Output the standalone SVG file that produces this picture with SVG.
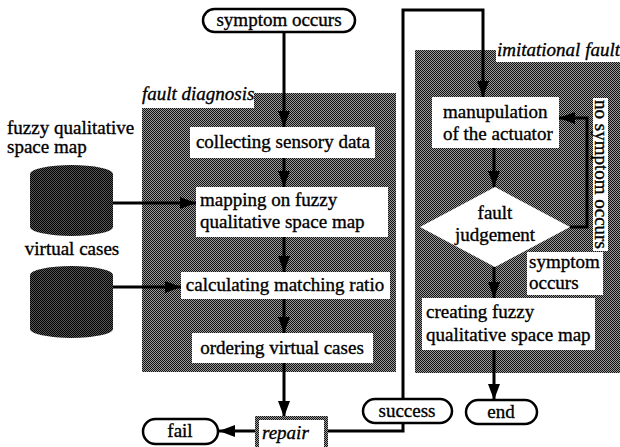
<svg xmlns="http://www.w3.org/2000/svg" width="620" height="447" viewBox="0 0 620 447">
  <defs>
    <!-- halftone-like fill for shaded regions -->
    <pattern id="dither" width="2" height="2" patternUnits="userSpaceOnUse">
      <rect width="2" height="2" fill="#9a9a9a"/>
      <rect width="1" height="1" fill="#111"/>
      <rect x="1" y="1" width="1" height="1" fill="#111"/>
    </pattern>
    <pattern id="ditherDark" width="2" height="2" patternUnits="userSpaceOnUse">
      <rect width="2" height="2" fill="#555"/>
      <rect width="1" height="1" fill="#000"/>
      <rect x="1" y="1" width="1" height="1" fill="#000"/>
    </pattern>
    <marker id="arrow" viewBox="0 0 16 12" refX="16" refY="6" markerWidth="16" markerHeight="12" markerUnits="userSpaceOnUse" orient="auto">
      <path d="M0,0 L16,6 L0,12 Z" fill="#000"/>
    </marker>
  </defs>
  <style>
    text { font-family: "Liberation Serif", "Times New Roman", "DejaVu Serif", serif; font-size: 19px; fill: #000; stroke: #000; stroke-width: 0.35px; }
    .c { text-anchor: middle; }
    .it { font-style: italic; }
    .box { fill: #fff; stroke: none; }
    .pill { fill: #fff; stroke: #000; stroke-width: 2.5; }
    .shade { fill: url(#dither); }
    .conn { fill: none; stroke: #000; stroke-width: 3; }
  </style>

  <rect width="620" height="447" fill="#fff"/>

  <g font-family="Liberation Serif, serif">
  <!-- fault diagnosis region -->
  <g id="fault-diagnosis">
    <rect class="shade" x="142" y="93" width="254" height="279"/>
    <rect fill="#fff" x="138" y="84" width="116" height="24"/>
    <text class="it" x="142" y="100">fault diagnosis</text>
  </g>

  <!-- imitational fault region -->
  <g id="imitational-fault">
    <rect class="shade" x="415" y="50" width="205" height="323"/>
    <rect fill="#fff" x="496" y="36" width="124" height="26"/>
    <text class="it" x="497" y="56">imitational fault</text>
  </g>

  <!-- connectors -->
  <g id="connectors">
    <path class="conn" d="M284,32 V127" marker-end="url(#arrow)"/>
    <path class="conn" d="M284,158 V187" marker-end="url(#arrow)"/>
    <path class="conn" d="M284,237 V272" marker-end="url(#arrow)"/>
    <path class="conn" d="M284,299 V333" marker-end="url(#arrow)"/>
    <path class="conn" d="M284,363 V417" marker-end="url(#arrow)"/>
    <path class="conn" d="M113,203 H196" marker-end="url(#arrow)"/>
    <path class="conn" d="M113,287 H181" marker-end="url(#arrow)"/>
    <path class="conn" d="M255,431 H219" marker-end="url(#arrow)"/>
    <path class="conn" d="M328,431 H403 V10 H483 V97" marker-end="url(#arrow)"/>
    <path class="conn" d="M494,148 V187" marker-end="url(#arrow)"/>
    <path class="conn" d="M570,227 H587 V118 H559" marker-end="url(#arrow)"/>
    <path class="conn" d="M494,267 V298" marker-end="url(#arrow)"/>
    <path class="conn" d="M494,350 V400" marker-end="url(#arrow)"/>
  </g>

  <!-- terminals -->
  <g id="symptom-occurs">
    <rect class="pill" x="203" y="9" width="152" height="23" rx="11.5"/>
    <text class="c" x="279" y="26">symptom occurs</text>
  </g>
  <g id="fail">
    <rect class="pill" x="143" y="419" width="75" height="25" rx="12.5"/>
    <text class="c" x="180" y="437">fail</text>
  </g>
  <g id="success">
    <rect class="pill" x="363" y="399" width="89" height="24" rx="12"/>
    <text class="c" x="407" y="417">success</text>
  </g>
  <g id="end">
    <rect class="pill" x="466" y="400" width="71" height="24" rx="12"/>
    <text class="c" x="501" y="418">end</text>
  </g>

  <!-- repair box with shaded border -->
  <g id="repair">
    <rect fill="url(#dither)" x="255" y="416" width="73" height="33"/>
    <rect fill="#fff" x="259" y="420" width="65" height="29"/>
    <text class="it" x="262" y="439">repair</text>
  </g>

  <!-- databases -->
  <g id="fuzzy-map-db">
    <text x="7" y="134">fuzzy qualitative</text>
    <text x="7" y="153">space map</text>
    <path fill="url(#ditherDark)" d="M30,174 A41.5,9 0 0 1 113,174 V227 A41.5,9 0 0 1 30,227 Z"/>
  </g>
  <g id="virtual-cases-db">
    <text class="c" x="72" y="255">virtual cases</text>
    <path fill="url(#ditherDark)" d="M30,275 A41.5,9 0 0 1 113,275 V329 A41.5,9 0 0 1 30,329 Z"/>
  </g>

  <!-- fault diagnosis steps -->
  <g id="collecting">
    <rect class="box" x="190" y="127" width="185" height="31"/>
    <text class="c" x="283" y="148">collecting sensory data</text>
  </g>
  <g id="mapping">
    <rect class="box" x="196" y="187" width="192" height="50"/>
    <text x="200" y="206">mapping on fuzzy</text>
    <text x="200" y="228">qualitative space map</text>
  </g>
  <g id="calculating">
    <rect class="box" x="181" y="272" width="209" height="27"/>
    <text class="c" x="285" y="291">calculating matching ratio</text>
  </g>
  <g id="ordering">
    <rect class="box" x="192" y="333" width="181" height="30"/>
    <text class="c" x="282" y="354">ordering virtual cases</text>
  </g>

  <!-- imitational fault steps -->
  <g id="manupulation">
    <rect class="box" x="432" y="97" width="127" height="51"/>
    <text x="443" y="118">manupulation</text>
    <text x="443" y="140">of the actuator</text>
  </g>
  <g id="judgement">
    <polygon class="box" points="495,187 570,227 495,267 420,227"/>
    <text class="c" x="495" y="219">fault</text>
    <text class="c" x="495" y="241">judgement</text>
  </g>
  <g id="no-symptom-label">
    <rect fill="#fff" x="593" y="98" width="15" height="153"/>
    <text x="0" y="0" transform="translate(595,100) rotate(90)">no symptom occurs</text>
  </g>
  <g id="symptom-label">
    <rect fill="#fff" x="527" y="252" width="76" height="43"/>
    <text x="529" y="268">symptom</text>
    <text x="529" y="289">occurs</text>
  </g>
  <g id="creating">
    <rect class="box" x="422" y="298" width="173" height="52"/>
    <text x="426" y="318">creating fuzzy</text>
    <text x="426" y="341">qualitative space map</text>
  </g>
  </g>
</svg>
